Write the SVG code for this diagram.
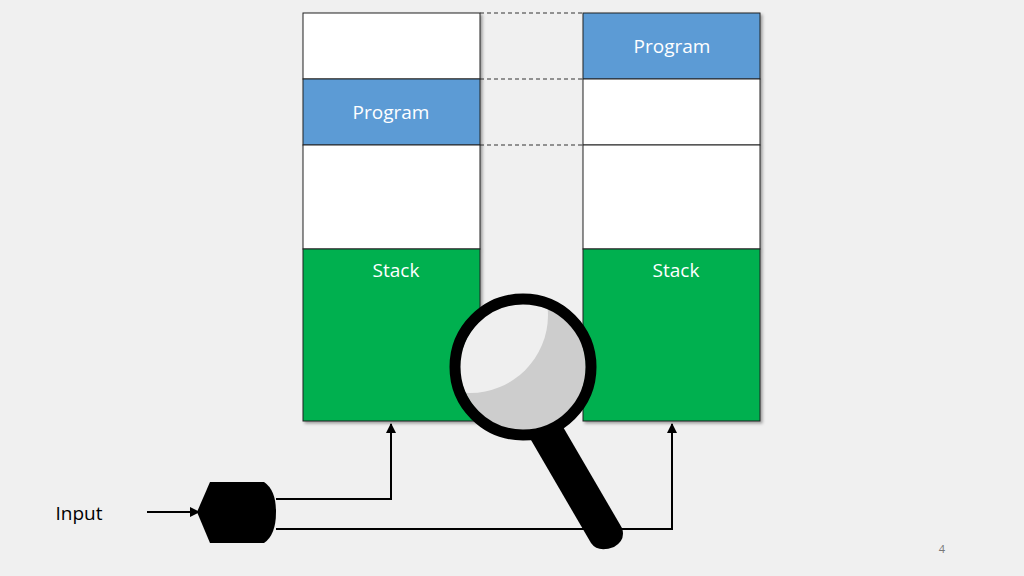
<svg xmlns="http://www.w3.org/2000/svg" width="1024" height="576" viewBox="0 0 1024 576">
<defs>
<style>
.w{fill:#fff;stroke:#222;stroke-width:1}
.b{fill:#5b9bd5;stroke:#222;stroke-width:1}
.g{fill:#00b050;stroke:#222;stroke-width:1}
.t{font-family:"Open Sans","Liberation Sans",sans-serif;font-size:19px;fill:#fff;text-anchor:middle}
.c{fill:none;stroke:#000;stroke-width:2}
.d{stroke:#333;stroke-width:1;stroke-dasharray:4 3}
</style>
<marker id="a" viewBox="0 0 10 10" refX="9" refY="5" markerWidth="5" markerHeight="5" orient="auto"><path d="M0 0L10 5L0 10z" fill="#000"/></marker>
<filter id="s"><feDropShadow dx="2" dy="2" stdDeviation="1.5" flood-opacity="0.35"/></filter>
<clipPath id="lens"><circle cx="523" cy="367" r="63"/></clipPath>
</defs>
<rect width="1024" height="576" fill="#f0f0f0"/>
<g id="left" filter="url(#s)">
<rect class="w" x="303" y="13" width="177" height="66"/>
<rect class="b" x="303" y="79" width="177" height="66"/>
<rect class="w" x="303" y="145" width="177" height="104"/>
<rect class="g" x="303" y="249" width="177" height="172"/>
</g>
<text class="t" x="391" y="119">Program</text>
<text class="t" x="396" y="277">Stack</text>
<g id="right" filter="url(#s)">
<rect class="b" x="583" y="13" width="177" height="66"/>
<rect class="w" x="583" y="79" width="177" height="66"/>
<rect class="w" x="583" y="145" width="177" height="104"/>
<rect class="g" x="583" y="249" width="177" height="172"/>
</g>
<text class="t" x="672" y="53">Program</text>
<text class="t" x="676" y="277">Stack</text>
<g id="dashes">
<line class="d" x1="480" y1="13" x2="583" y2="13"/>
<line class="d" x1="480" y1="79" x2="583" y2="79"/>
<line class="d" x1="480" y1="145" x2="583" y2="145"/>
</g>
<g id="connectors">
<line class="c" x1="147" y1="512" x2="199" y2="512" marker-end="url(#a)"/>
<polyline class="c" points="276,499 391,499 391,424" marker-end="url(#a)"/>
<polyline class="c" points="276,529 672,529 672,424" marker-end="url(#a)"/>
</g>
<g id="gate">
<path d="M197 512L210 482H264Q276 490 276 512Q276 535 264 543H210Z" fill="#000"/>
</g>
<text x="79" y="520" font-family="'Open Sans','Liberation Sans',sans-serif" font-size="19" fill="#000" text-anchor="middle">Input</text>
<g id="magnifier">
<path d="M559 420L531 440L591 543Q598 553 614 547Q626 540 622 528Z" fill="#000"/>
<circle cx="523" cy="367" r="63" fill="#cdcdcd"/>
<circle cx="470" cy="315" r="78" fill="#efefef" clip-path="url(#lens)"/>
<circle cx="523" cy="367" r="68" fill="none" stroke="#000" stroke-width="11"/>
</g>
<text x="942" y="553" font-family="'Open Sans','Liberation Sans',sans-serif" font-size="11" fill="#777" text-anchor="middle">4</text>
</svg>
